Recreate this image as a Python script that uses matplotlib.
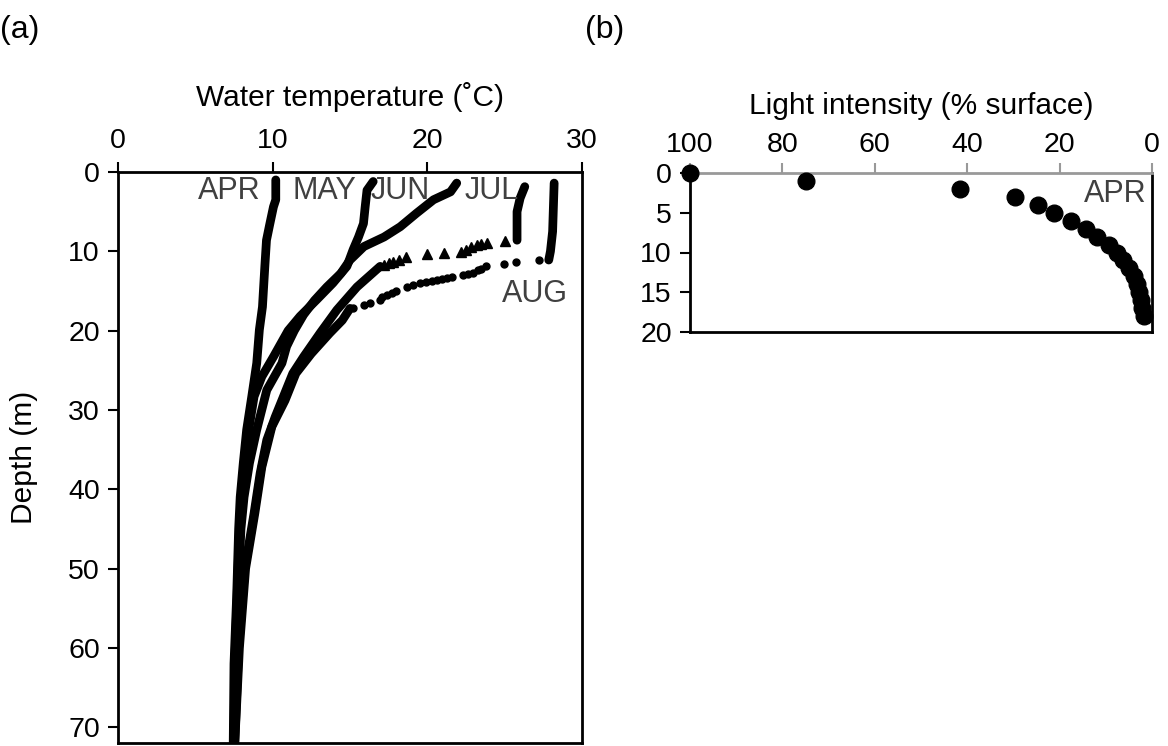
import matplotlib
matplotlib.use('Agg')
import matplotlib.pyplot as plt

plt.rcParams['font.family'] = ['Liberation Sans', 'DejaVu Sans']

# (a) temperature profiles: depth (m) and water temperature (C)
apr_depth = [1.0, 3.5, 4.4, 6.7, 8.6, 11.7, 17.0, 19.9, 24.1, 28.3, 32.5, 36.7, 41.0, 45.0, 53.6, 62.0, 72.0]
apr_temp = [10.2, 10.2, 10.05, 9.8, 9.6, 9.5, 9.34, 9.14, 8.97, 8.65, 8.32, 8.1, 7.9, 7.8, 7.67, 7.5, 7.45]

may_depth = [1.2, 2.3, 4.4, 6.5, 8.2, 9.8, 11.9, 14.0, 16.1, 18.2, 20.0, 23.3, 25.8, 28.3, 32.5, 36.7, 41.0, 45.0, 53.6, 62.0, 72.0]
may_temp = [16.5, 16.1, 15.98, 15.87, 15.55, 15.2, 14.8, 13.9, 12.85, 11.77, 11.0, 10.05, 9.3, 8.8, 8.45, 8.2, 8.0, 7.85, 7.7, 7.55, 7.5]

jun_depth = [1.4, 2.5, 3.5, 5.2, 6.9, 8.2, 9.4, 11.1, 12.8, 14.5, 16.2, 18.0, 20.0, 22.0, 24.1, 27.5, 32.5, 36.7, 41.0, 45.0, 53.6, 62.0, 72.0]
jun_temp = [21.9, 21.5, 20.4, 19.3, 18.25, 17.2, 15.9, 15.0, 14.4, 13.5, 12.7, 12.0, 11.4, 10.9, 10.6, 9.62, 8.97, 8.5, 8.15, 7.95, 7.75, 7.6, 7.5]

jul_top_depth = [1.85, 3.3, 5.0, 8.6]
jul_top_temp = [26.3, 26.0, 25.8, 25.8]
jul_mid_depth = [8.66, 8.9, 9.1, 9.25, 9.5, 9.8, 10.1, 10.2, 10.3, 10.75, 11.1, 11.3, 11.5, 11.7]
jul_mid_temp = [25.0, 23.85, 23.45, 23.2, 22.8, 22.5, 22.2, 21.05, 20.0, 18.65, 18.15, 17.8, 17.5, 17.2]
jul_low_depth = [11.9, 14.5, 17.4, 20.3, 23.3, 25.4, 28.3, 30.9, 33.8, 38.0, 43.0, 50.0, 60.0, 72.0]
jul_low_temp = [16.95, 15.45, 14.15, 13.07, 12.0, 11.3, 10.7, 10.16, 9.62, 9.19, 8.8, 8.2, 7.8, 7.55]

aug_top_depth = [1.4, 7.5, 10.0, 11.1]
aug_top_temp = [28.2, 28.1, 27.96, 27.85]
aug_mid_depth = [11.1, 11.4, 11.6, 11.9, 12.2, 12.4, 12.7, 12.9, 13.0, 13.3, 13.4, 13.5, 13.6, 13.7,
                 13.9, 14.0, 14.2, 14.5, 15.0, 15.2, 15.5, 15.8, 16.1, 16.5, 16.8, 17.1]
aug_mid_temp = [27.2, 25.75, 24.98, 23.8, 23.5, 23.3, 22.95, 22.6, 22.3, 21.6, 21.3, 20.95, 20.6, 20.3,
                19.9, 19.5, 19.1, 18.7, 18.0, 17.7, 17.4, 17.1, 16.95, 16.3, 15.9, 15.2]
aug_low_depth = [17.2, 18.7, 20.3, 22.9, 25.4, 28.8, 32.1, 37.2, 43.0, 50.0, 60.0, 72.0]
aug_low_temp = [15.0, 14.5, 13.7, 12.5, 11.5, 10.8, 9.95, 9.3, 8.85, 8.25, 7.85, 7.55]

# (b) light profile
light_depth = [0, 1, 2, 3, 4, 5, 6, 7, 8, 9, 10, 11, 12, 13, 14, 15, 16, 17, 18]
light_pct = [100, 74.9, 41.5, 29.6, 24.6, 21.2, 17.5, 14.3, 11.8, 9.4, 7.6, 6.2, 5.0, 4.0, 3.3, 2.8, 2.4, 2.1, 1.8]

LW = 6.3
TXT = '#404040'
TICK_FS = 20.5
LABEL_FS = 21.5
MONTH_FS = 22

fig = plt.figure(figsize=(11.68, 7.46), dpi=100)

# ---- panel (a)
ax = fig.add_axes([118 / 1168, 1 - 743 / 746, 464 / 1168, 571 / 746])
for d, t in [(apr_depth, apr_temp), (may_depth, may_temp), (jun_depth, jun_temp),
             (jul_top_depth, jul_top_temp), (jul_low_depth, jul_low_temp),
             (aug_top_depth, aug_top_temp), (aug_low_depth, aug_low_temp)]:
    ax.plot(t, d, color='black', lw=LW, solid_capstyle='round', solid_joinstyle='round')
ax.plot(jul_mid_temp, jul_mid_depth, ls='none', marker='^', ms=7, color='black')
ax.plot(aug_mid_temp, aug_mid_depth, ls='none', marker='o', ms=5, color='black')

ax.set_xlim(0, 30)
ax.set_ylim(72, 0)
ax.set_xticks([0, 10, 20, 30])
ax.set_yticks([0, 10, 20, 30, 40, 50, 60, 70])
ax.xaxis.tick_top()
ax.xaxis.set_label_position('top')
ax.tick_params(axis='both', direction='out', length=7, width=1.5, labelsize=TICK_FS, pad=6)
for s in ax.spines.values():
    s.set_linewidth(2)
ax.set_xlabel('Water temperature (˚C)', fontsize=LABEL_FS, labelpad=16)
ax.set_ylabel('Depth (m)', fontsize=LABEL_FS, labelpad=22)

ax.text(9.2, 2.4, 'APR', ha='right', va='center', fontsize=MONTH_FS, color=TXT)
ax.text(11.3, 2.4, 'MAY', ha='left', va='center', fontsize=MONTH_FS, color=TXT)
ax.text(16.3, 2.4, 'JUN', ha='left', va='center', fontsize=MONTH_FS, color=TXT)
ax.text(22.4, 2.4, 'JUL', ha='left', va='center', fontsize=MONTH_FS, color=TXT)
ax.text(24.85, 15.4, 'AUG', ha='left', va='center', fontsize=MONTH_FS, color=TXT)

# ---- panel (b)
bx = fig.add_axes([690 / 1168, 1 - 332 / 746, 462 / 1168, 159 / 746])
bx.plot(light_pct, light_depth, ls='none', marker='o', ms=12, color='black', clip_on=False, zorder=5)
bx.set_xlim(100, 0)
bx.set_ylim(20, 0)
bx.set_xticks([100, 80, 60, 40, 20, 0])
bx.set_yticks([0, 5, 10, 15, 20])
bx.xaxis.tick_top()
bx.xaxis.set_label_position('top')
bx.tick_params(axis='x', direction='out', length=7, width=1.5, color='#999999', labelsize=TICK_FS, pad=4)
bx.tick_params(axis='y', direction='out', length=7, width=1.5, labelsize=TICK_FS, pad=6)
for s in bx.spines.values():
    s.set_linewidth(2)
bx.spines['top'].set_color('#999999')
bx.set_xlabel('Light intensity (% surface)', fontsize=LABEL_FS, labelpad=13)
bx.text(1.1, 2.6, 'APR', ha='right', va='center', fontsize=MONTH_FS, color=TXT)

fig.text(0.0, 1 - 30 / 746, '(a)', fontsize=23, ha='left', va='center')
fig.text(585 / 1168, 1 - 30 / 746, '(b)', fontsize=23, ha='left', va='center')

plt.savefig('out.png', dpi=100)
